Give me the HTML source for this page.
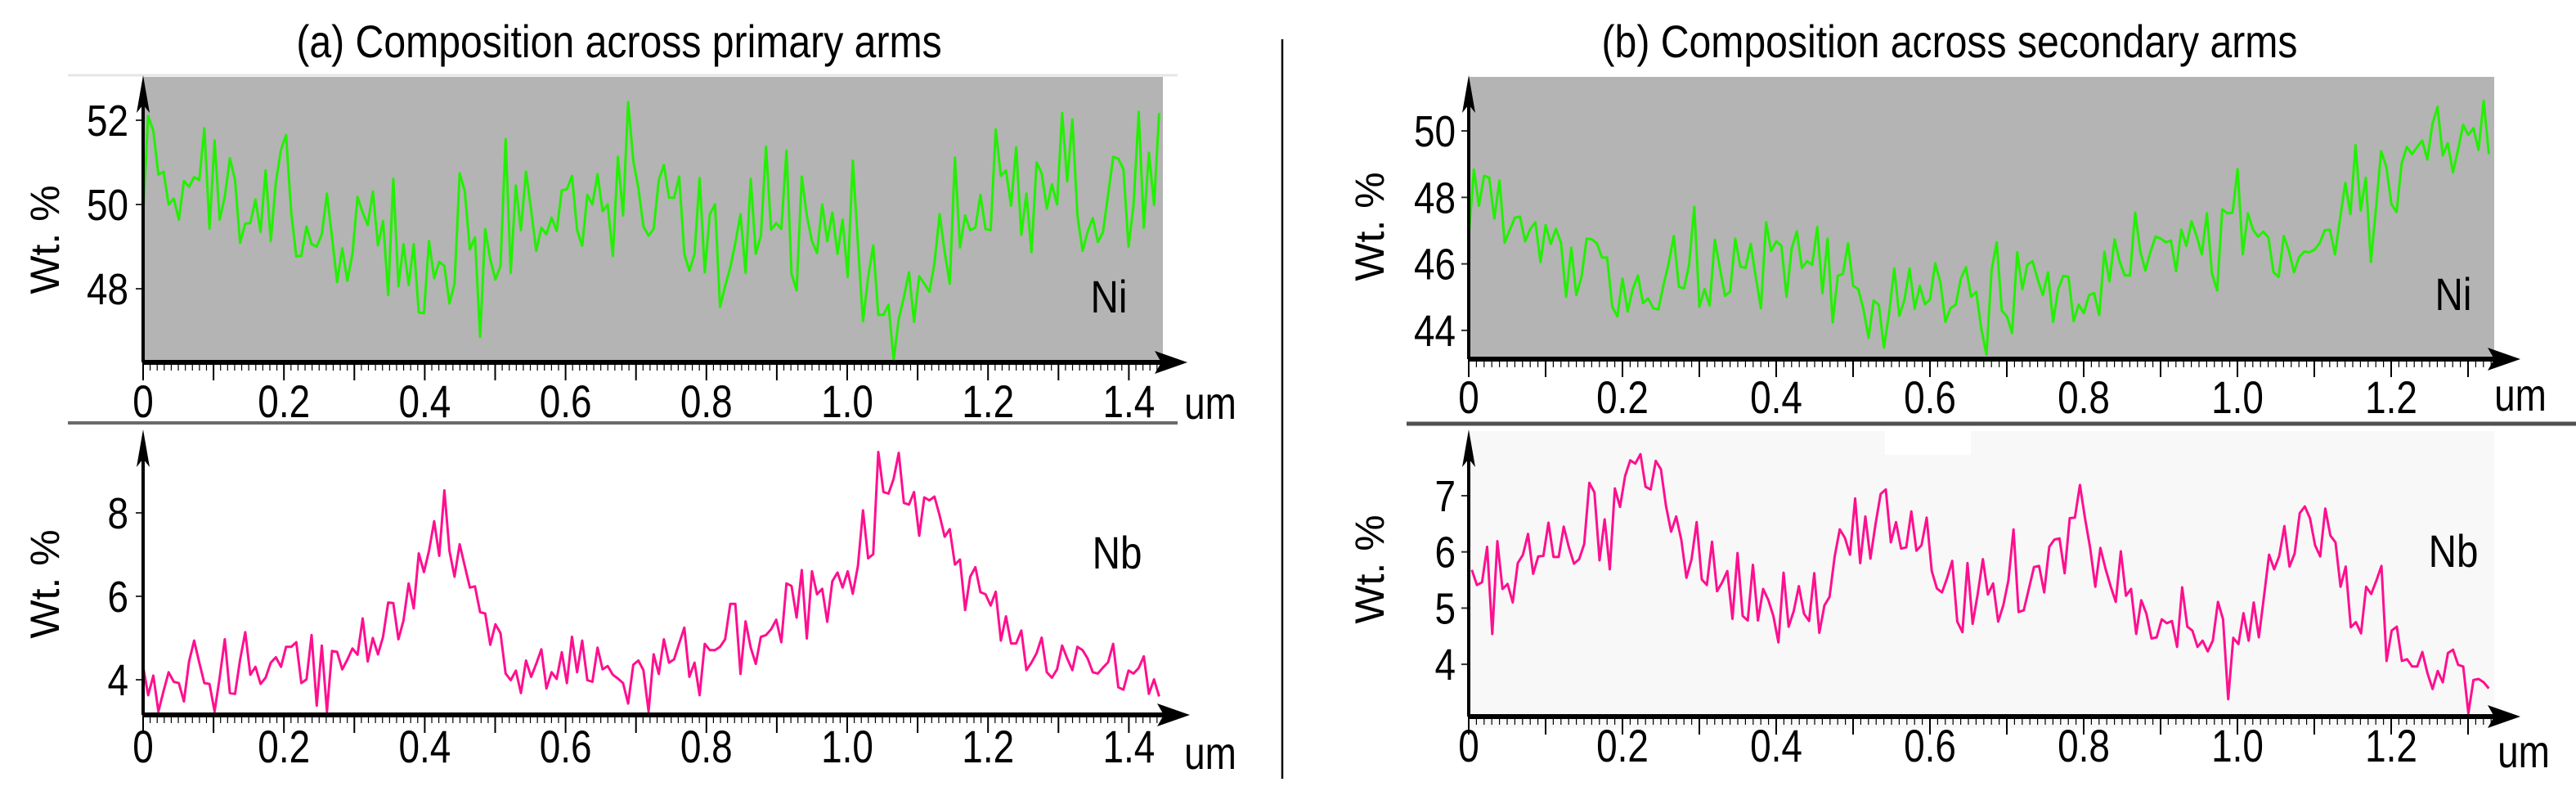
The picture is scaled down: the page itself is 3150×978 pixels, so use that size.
<!DOCTYPE html>
<html><head><meta charset="utf-8"><style>
html,body{margin:0;padding:0;background:#fff;}
svg{display:block;font-family:"Liberation Sans",Arial,sans-serif;}
</style></head><body>
<svg id="fig" width="3150" height="978" viewBox="0 0 3150 978" xmlns="http://www.w3.org/2000/svg">
<text font-size="56" text-anchor="middle" transform="translate(757 70) scale(0.86 1)">(a) Composition across primary arms</text>
<text font-size="56" text-anchor="middle" transform="translate(2384 70) scale(0.86 1)">(b) Composition across secondary arms</text>
<line x1="1568" y1="48" x2="1568" y2="952" stroke="#000" stroke-width="2.5"/>
<line x1="83" y1="92" x2="1440" y2="92" stroke="#e6e6e6" stroke-width="3"/>
<line x1="83" y1="517" x2="1440" y2="517" stroke="#6a6a6a" stroke-width="4"/>
<line x1="1720" y1="518" x2="3150" y2="518" stroke="#505050" stroke-width="5"/>
</svg>
<script>
// ---- data (µm positions span, wt.% values) ----
const niA_xRange = [0, 1.443];
const niA_values = [49.74,52.10,51.75,50.71,50.78,50.0,50.14,49.64,50.56,50.42,50.65,50.58,51.81,49.43,51.52,49.64,50.19,51.10,50.58,49.09,49.55,49.56,50.12,49.35,50.81,49.13,50.52,51.30,51.65,49.81,48.77,48.78,49.48,49.06,49.0,49.29,50.26,49.22,48.16,48.96,48.19,48.83,50.18,49.81,49.51,50.31,49.03,49.61,47.85,50.61,48.06,49.06,48.09,49.06,47.44,47.42,49.13,48.25,48.64,48.54,47.65,48.12,50.74,50.32,48.93,49.22,46.86,49.42,48.70,48.22,48.54,51.55,48.38,50.45,49.39,50.78,49.87,48.90,49.45,49.29,49.69,49.37,50.34,50.36,50.68,49.39,49.02,50.23,50.0,50.72,49.84,50.0,48.78,51.13,49.74,52.43,51.04,50.39,49.48,49.26,49.42,50.58,
50.94,50.16,50.16,50.66,48.83,48.43,48.83,50.63,48.39,49.77,50.0,47.57,48.06,48.51,49.09,49.77,48.38,50.61,48.83,49.26,51.37,49.40,49.56,49.42,51.28,48.35,47.96,50.66,49.74,49.13,48.85,50.0,49.13,49.81,48.83,49.64,48.28,51.04,49.06,47.23,48.28,49.03,47.38,47.38,47.62,46.31,47.28,47.80,48.39,47.22,48.30,48.12,47.93,48.61,49.77,48.87,48.12,51.11,48.98,49.74,49.39,49.45,50.23,49.42,49.39,51.78,50.68,50.81,49.97,51.36,49.28,50.26,48.87,51.0,50.74,49.90,50.48,50.0,52.17,50.55,52.02,49.74,48.90,49.35,49.68,49.11,49.34,50.23,51.13,51.09,50.84,49.0,50.0,52.20,49.45,51.23,49.99,52.17];
const nbA_xRange = [0, 1.443];
const nbA_values = [4.31,3.63,4.10,3.24,3.73,4.18,3.95,3.92,3.48,4.44,4.94,4.41,3.92,3.90,3.24,4.05,4.97,3.68,3.66,4.48,5.14,4.12,4.31,3.90,4.05,4.41,4.54,4.31,4.79,4.79,4.90,3.92,4.01,5.07,3.38,4.82,3.24,4.69,4.67,4.25,4.48,4.75,4.60,5.47,4.44,5.0,4.61,5.03,5.85,5.84,4.97,5.42,6.31,5.71,7.03,6.58,7.09,7.80,6.97,8.54,7.09,6.47,7.25,6.73,6.21,6.24,5.62,5.59,4.84,5.33,5.12,4.15,3.99,4.22,3.68,4.46,4.07,4.38,4.73,3.79,4.18,4.02,4.66,3.92,5.03,4.18,4.94,3.99,3.95,4.77,4.25,4.33,4.12,4.03,3.92,3.43,4.36,4.46,4.23,3.24,4.61,4.14,
4.97,4.41,4.49,4.87,5.25,4.07,4.41,3.63,4.86,4.71,4.71,4.79,4.97,5.82,5.82,4.14,5.40,4.77,4.38,5.03,5.07,5.21,5.44,4.90,6.31,6.25,5.49,6.63,4.99,6.60,6.05,6.18,5.39,6.36,6.57,6.21,6.60,6.06,6.73,8.06,6.91,7.01,9.46,8.50,8.46,8.82,9.44,8.24,8.20,8.50,7.45,8.37,8.30,8.39,7.94,7.43,7.61,6.76,6.88,5.67,6.47,6.70,6.10,6.05,5.78,6.11,4.94,5.52,4.87,4.87,5.18,4.23,4.41,4.64,5.01,4.18,4.05,4.25,4.82,4.51,4.23,4.79,4.71,4.51,4.18,4.15,4.29,4.42,4.86,3.82,3.76,4.22,4.15,4.28,4.56,3.66,4.01,3.60];
const niB_xRange = [0, 1.327];
const niB_values = [46.80,48.84,47.75,48.65,48.59,47.36,48.51,46.64,47.01,47.39,47.42,46.68,47.05,47.25,46.05,47.17,46.60,47.05,46.64,45.01,46.49,45.06,45.61,46.76,46.74,46.62,46.19,46.19,44.71,44.42,45.56,44.57,45.24,45.65,44.82,44.96,44.67,44.63,45.37,46.02,46.84,45.31,45.26,45.98,47.72,44.71,45.24,44.75,46.72,45.88,45.04,45.16,46.76,45.92,45.88,46.60,45.61,44.67,47.25,46.39,46.68,46.54,45.01,46.47,46.98,45.88,46.08,45.97,47.11,45.12,46.76,44.24,45.64,45.70,46.62,45.34,45.24,44.63,43.78,44.90,44.77,43.48,44.51,45.86,44.44,44.92,45.86,44.65,45.34,44.79,44.93,46.02,45.45,44.26,44.67,44.77,45.56,45.90,45.01,45.16,44.05,43.27,
45.82,46.65,44.59,44.42,43.92,46.35,45.24,45.98,46.08,45.53,45.06,45.75,44.26,45.24,45.64,45.61,44.28,44.77,44.52,45.06,45.12,44.46,46.37,45.47,46.74,46.06,45.65,45.65,47.54,46.39,45.80,46.37,46.82,46.76,46.65,46.70,45.78,47.03,46.54,47.28,46.84,46.29,47.52,45.70,45.20,47.64,47.52,47.54,48.85,46.29,47.52,47.03,46.82,46.97,46.80,45.75,45.61,46.84,46.39,45.75,46.21,46.37,46.35,46.43,46.62,47.01,47.03,46.29,47.38,48.44,47.50,49.57,47.61,48.59,46.06,47.70,49.39,48.93,47.79,47.56,49.02,49.52,49.30,49.51,49.71,49.14,50.21,50.72,49.26,49.63,48.75,49.44,50.18,49.88,50.08,49.43,50.90,49.30];
const nbB_xRange = [0.004, 1.327];
const nbB_values = [5.68,5.41,5.46,6.09,4.54,6.19,5.34,5.43,5.10,5.80,5.95,6.32,5.61,5.92,5.93,6.52,5.91,5.91,6.45,6.08,5.79,5.87,6.14,7.23,7.06,5.85,6.58,5.69,7.13,6.80,7.35,7.63,7.57,7.74,7.16,7.11,7.62,7.47,6.82,6.36,6.63,6.21,5.54,5.87,6.53,5.51,5.41,6.18,5.30,5.46,5.66,4.81,5.98,4.86,4.78,5.77,4.78,5.34,5.15,4.86,4.39,5.63,4.67,4.95,5.39,4.90,4.77,5.62,4.56,5.05,5.20,5.92,6.40,6.25,5.95,6.95,5.80,6.63,5.88,6.50,7.03,7.11,6.17,6.53,6.06,6.08,6.72,6.02,6.12,6.61,5.66,5.35,5.28,5.53,5.84,4.76,4.57,5.80,4.72,5.25,5.87,
5.24,5.44,4.76,5.05,5.49,6.40,4.93,4.96,5.34,5.73,5.75,5.28,6.09,6.22,6.24,5.62,6.60,6.61,7.19,6.59,6.07,5.38,6.07,5.70,5.39,5.11,6.01,5.22,5.34,4.54,5.14,4.90,4.46,4.48,4.80,4.73,4.77,4.31,5.37,4.67,4.60,4.31,4.42,4.23,4.42,5.11,4.80,3.38,4.47,4.36,4.91,4.42,5.10,4.48,5.20,5.95,5.69,5.93,6.46,5.74,5.97,6.69,6.81,6.60,6.12,5.92,6.77,6.29,6.17,5.38,5.74,4.66,4.75,4.55,5.38,5.25,5.49,5.75,4.06,4.60,4.67,4.06,4.09,3.96,3.96,4.22,3.84,3.56,3.88,3.68,4.20,4.26,3.99,3.96,3.13,3.72,3.74,3.68,3.57];
const xTicksA = [0,0.2,0.4,0.6,0.8,1.0,1.2,1.4];
const xTicksB = [0,0.2,0.4,0.6,0.8,1.0,1.2];
const xTickLabelsA = ["0","0.2","0.4","0.6","0.8","1.0","1.2","1.4"];
const xTickLabelsB = ["0","0.2","0.4","0.6","0.8","1.0","1.2"];
const yTicksNiA = [48,50,52];
const yTicksNbA = [4,6,8];
const yTicksNiB = [44,46,48,50];
const yTicksNbB = [4,5,6,7];

const NS = "http://www.w3.org/2000/svg";
const svg = document.getElementById('fig');
function mk(tag, attrs, parent){
  const e = document.createElementNS(NS, tag);
  for (const k in attrs) e.setAttribute(k, attrs[k]);
  (parent||svg).appendChild(e);
  return e;
}
function linScale(d0, d1, r0, r1){ return v => r0 + (v - d0) * (r1 - r0) / (d1 - d0); }
function tr(x, y, sx){ return 'translate(' + x + ' ' + y + ') scale(' + sx + ' 1)'; }

const panels = [
  {id:'ni-a', bg:'#b4b4b4', bgX0:175, bgX1:1422, bgY0:94, bgY1:442, axisY:443, x0:175, xEnd:1440, arrowX:1452, topY:94,
   xs: linScale(0,1,175,1036), ys: linScale(52,50,147,250), vals: niA_values, xr: niA_xRange, color:'#22f000',
   xt: xTicksA, xl: xTickLabelsA, yt: yTicksNiA, labelY:510, umX:1480, umY:512, yLabX:157, wtX:55, wtY:293,
   elem:'Ni', elemX:1356, elemY:382, xmax:1.45},
  {id:'nb-a', bg:null, axisY:874, x0:175, xEnd:1440, arrowX:1455, topY:527,
   xs: linScale(0,1,175,1036), ys: linScale(8,6,627,729), vals: nbA_values, xr: nbA_xRange, color:'#ff0f8f',
   xt: xTicksA, xl: xTickLabelsA, yt: yTicksNbA, labelY:932, umX:1480, umY:940, yLabX:157, wtX:55, wtY:714,
   elem:'Nb', elemX:1366, elemY:695, xmax:1.45},
  {id:'ni-b', bg:'#b4b4b4', bgX0:1796, bgX1:3050, bgY0:94, bgY1:437, axisY:439, x0:1796, xEnd:3068, arrowX:3082, topY:94,
   xs: linScale(0,1,1796,2736), ys: linScale(50,48,160,241.3), vals: niB_values, xr: niB_xRange, color:'#22f000',
   xt: xTicksB, xl: xTickLabelsB, yt: yTicksNiB, labelY:505, umX:3082, umY:502, yLabX:1780, wtX:1675, wtY:277,
   elem:'Ni', elemX:3000, elemY:379, xmax:1.33},
  {id:'nb-b', bg:'#f8f8f8', bgX0:1796, bgX1:3050, bgY0:527, bgY1:890, axisY:876, x0:1796, xEnd:3068, arrowX:3082, topY:527,
   xs: linScale(0,1,1796,2736), ys: linScale(7,6,606,674.7), vals: nbB_values, xr: nbB_xRange, color:'#ff0f8f',
   xt: xTicksB, xl: xTickLabelsB, yt: yTicksNbB, labelY:931, umX:3086, umY:938, yLabX:1780, wtX:1675, wtY:696,
   elem:'Nb', elemX:3000, elemY:693, xmax:1.33}
];

panels.forEach(p => {
  const g = mk('g', {});
  
  
  if (p.bg) {
    const r = mk('rect', {x:p.bgX0, y:p.bgY0, width:p.bgX1-p.bgX0, height:p.bgY1-p.bgY0, fill:p.bg}, g);
    
    
  }
  if (p.id === 'nb-b') {
    const n = mk('rect', {x:2305, y:527, width:105, height:29, fill:'#fff'}, g);
    
    
  }
  for (let i = 0; i * 0.01 <= p.xmax; i++) {
    const v = i * 0.01;
    const x = p.xs(v);
    const major = (i % 10 === 0);
    const t = mk('line', {x1:x, y1:p.axisY, x2:x, y2:p.axisY + (major ? 22 : 10), stroke:'#000', 'stroke-width': major ? 2 : 1.2}, g);
    
    
  }
  p.yt.forEach(v => {
    const y = p.ys(v);
    const t = mk('line', {x1:p.x0-9, y1:y, x2:p.x0, y2:y, stroke:'#333', 'stroke-width':2}, g);
    
    
    const lb = mk('text', {'font-size':54, 'text-anchor':'end', transform:tr(p.yLabX, y+19, 0.85)}, g);
    lb.textContent = String(v);
    
    
  });
  const n = p.vals.length;
  const step = (p.xr[1] - p.xr[0]) / (n - 1);
  const pts = p.vals.map((v, i) => p.xs(p.xr[0] + i * step).toFixed(1) + ',' + p.ys(v).toFixed(1)).join(' ');
  const pl = mk('polyline', {points:pts, fill:'none', stroke:p.color, 'stroke-width':3, 'stroke-linejoin':'round'}, g);
  
  
  const xa = mk('line', {x1:p.x0, y1:p.axisY, x2:p.xEnd, y2:p.axisY, stroke:'#000', 'stroke-width':6}, g);
  
  
  const xarr = mk('polygon', {points:(p.arrowX)+','+p.axisY+' '+(p.arrowX-40)+','+(p.axisY-14)+' '+(p.arrowX-32)+','+p.axisY+' '+(p.arrowX-40)+','+(p.axisY+14), fill:'#000'}, g);
  
  
  const ya = mk('line', {x1:p.x0, y1:p.axisY, x2:p.x0, y2:p.topY+20, stroke:'#000', 'stroke-width':4}, g);
  
  
  const yarr = mk('polygon', {points:p.x0+','+(p.topY-2)+' '+(p.x0-8)+','+(p.topY+44)+' '+p.x0+','+(p.topY+34)+' '+(p.x0+8)+','+(p.topY+44), fill:'#000'}, g);
  
  
  p.xt.forEach((v, i) => {
    const lb = mk('text', {'font-size':56, 'text-anchor':'middle', transform:tr(p.xs(v), p.labelY, 0.82)}, g);
    lb.textContent = p.xl[i];
    
    
  });
  const um = mk('text', {'font-size':56, 'text-anchor':'middle', transform:tr(p.umX, p.umY, 0.82)}, g);
  um.textContent = 'um';
  
  
  const wt = mk('text', {'font-size':50, 'text-anchor':'middle', 'dominant-baseline':'central', transform:'translate(' + p.wtX + ' ' + p.wtY + ') rotate(-90)', 'xml:space':'preserve'}, g);
  wt.textContent = 'Wt.  %';
  
  
  const el = mk('text', {'font-size':56, 'text-anchor':'middle', transform:tr(p.elemX, p.elemY, 0.85)}, g);
  el.textContent = p.elem;
  
  
});
</script>
</body></html>
